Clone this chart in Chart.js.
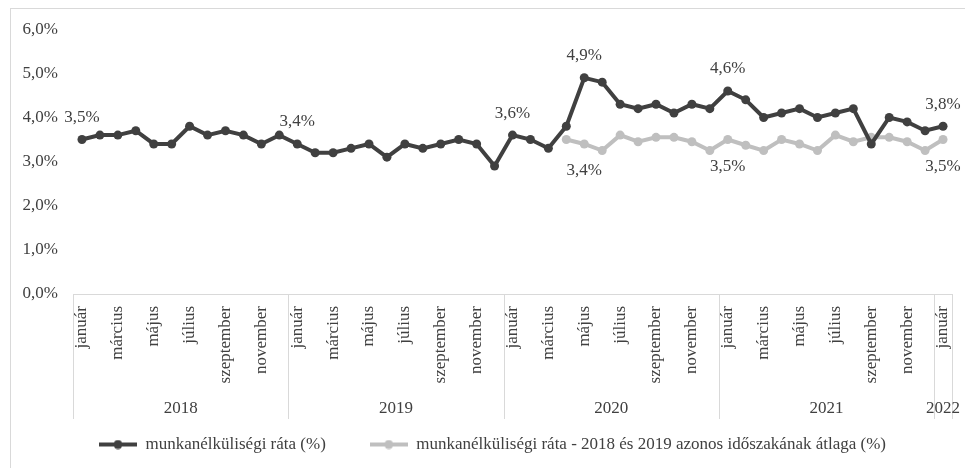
<!DOCTYPE html>
<html>
<head>
<meta charset="utf-8">
<script src="https://cdn.jsdelivr.net/npm/chart.js@4.4.1/dist/chart.umd.min.js"></script>
<style>
  html, body { margin: 0; padding: 0; background: #fff; overflow: hidden; }
  #box { position: absolute; left: 10px; top: 8px; width: 970px; height: 490px; border: 1px solid #d9d9d9; }
  canvas { display: block; margin-top: -5px; }
</style>
</head>
<body>
<div id="box"><canvas id="chart" width="970" height="459" style="width:970px;height:459px"></canvas></div>
<script>
// havi adatok 2018 január - 2022 január
const monthNames = ["január", "február", "március", "április", "május", "június",
  "július", "augusztus", "szeptember", "október", "november", "december"];
const years = ["2018", "2019", "2020", "2021", "2022"];
const yearMonths = [12, 12, 12, 12, 1];

const categories = [];
years.forEach((y, i) => {
  for (let m = 0; m < yearMonths[i]; m++) categories.push(monthNames[m]);
});

const rate = [
  3.5, 3.6, 3.6, 3.7, 3.4, 3.4, 3.8, 3.6, 3.7, 3.6, 3.4, 3.6,
  3.4, 3.2, 3.2, 3.3, 3.4, 3.1, 3.4, 3.3, 3.4, 3.5, 3.4, 2.9,
  3.6, 3.5, 3.3, 3.8, 4.9, 4.8, 4.3, 4.2, 4.3, 4.1, 4.3, 4.2,
  4.6, 4.4, 4.0, 4.1, 4.2, 4.0, 4.1, 4.2, 3.4, 4.0, 3.9, 3.7,
  3.8
];
const avg1819 = [
  null, null, null, null, null, null, null, null, null, null, null, null,
  null, null, null, null, null, null, null, null, null, null, null, null,
  null, null, null, 3.5, 3.4, 3.25, 3.6, 3.45, 3.55, 3.55, 3.45, 3.25,
  3.5, 3.37, 3.25, 3.5, 3.4, 3.25, 3.6, 3.45, 3.55, 3.55, 3.45, 3.25,
  3.5
];
const rateLabelIdx = [0, 12, 24, 28, 36, 48];
const avgLabelIdx = [28, 36, 48];

const yTicks = [0, 1, 2, 3, 4, 5, 6];

const FONT = "'Liberation Serif', 'Times New Roman', serif";
const FS = 17;
const TEXT = "#404040";
const DARK = "#404040";
const LIGHT = "#bfbfbf";
const AXIS = "#d9d9d9";

const fmt = v => v.toFixed(1).replace(".", ",") + "%";

// legend ikon: vonal + pont
function legendIcon(color) {
  const c = document.createElement("canvas");
  c.width = 38; c.height = 10;
  const g = c.getContext("2d");
  g.strokeStyle = color; g.lineWidth = 4;
  g.beginPath(); g.moveTo(0, 5); g.lineTo(38, 5); g.stroke();
  g.fillStyle = color;
  g.beginPath(); g.arc(19, 5, 4.5, 0, Math.PI * 2); g.fill();
  return c;
}
const icons = [legendIcon(DARK), legendIcon(LIGHT)];

const yearAxis = {
  id: "yearAxis",
  afterLayout(chart) {
    // a jelmagyarázat kicsit jobbra
    chart.legend.left += 5;
    chart.legend.right += 5;
  },
  afterDraw(chart) {
    const x = chart.scales.x;
    const ctx = chart.ctx;
    const half = (x.getPixelForValue(1) - x.getPixelForValue(0)) / 2;
    const top = chart.chartArea.bottom;
    const bottom = top + 125;
    ctx.save();
    ctx.strokeStyle = AXIS;
    ctx.lineWidth = 1;
    ctx.fillStyle = TEXT;
    ctx.font = FS + "px " + FONT;
    ctx.textAlign = "center";
    ctx.textBaseline = "middle";
    let start = 0;
    years.forEach((y, i) => {
      const left = x.getPixelForValue(start) - half;
      const right = x.getPixelForValue(start + yearMonths[i] - 1) + half;
      [left, right].forEach(px => {
        const p = Math.round(px) + 0.5;
        ctx.beginPath(); ctx.moveTo(p, top); ctx.lineTo(p, bottom); ctx.stroke();
      });
      ctx.fillText(y, (left + right) / 2, top + 115);
      start += yearMonths[i];
    });
    ctx.restore();
  }
};

const pointLabels = {
  id: "pointLabels",
  afterDatasetsDraw(chart) {
    const ctx = chart.ctx;
    ctx.save();
    ctx.fillStyle = TEXT;
    ctx.font = FS + "px " + FONT;
    ctx.textAlign = "center";
    ctx.textBaseline = "middle";
    const m0 = chart.getDatasetMeta(0).data;
    rateLabelIdx.forEach(i => ctx.fillText(fmt(rate[i]), m0[i].x, m0[i].y - 22));
    const m1 = chart.getDatasetMeta(1).data;
    avgLabelIdx.forEach(i => ctx.fillText(fmt(avg1819[i]), m1[i].x, m1[i].y + 27));
    ctx.restore();
  }
};

new Chart(document.getElementById("chart"), {
  type: "line",
  data: {
    labels: categories,
    datasets: [{
      label: "munkanélküliségi ráta (%)",
      data: rate,
      borderColor: DARK,
      backgroundColor: DARK,
      borderWidth: 4,
      pointRadius: 4.5,
      pointBorderWidth: 0,
      pointBackgroundColor: DARK,
      tension: 0
    }, {
      label: "munkanélküliségi ráta - 2018 és 2019 azonos időszakának átlaga (%)",
      data: avg1819,
      borderColor: LIGHT,
      backgroundColor: LIGHT,
      borderWidth: 4,
      pointRadius: 4.5,
      pointBorderWidth: 0,
      pointBackgroundColor: LIGHT,
      tension: 0
    }]
  },
  options: {
    responsive: false,
    animation: false,
    layout: { padding: { top: 14, right: 29, left: 12, bottom: 0 } },
    plugins: {
      legend: {
        position: "bottom",
        labels: {
          usePointStyle: true,
          pointStyleWidth: 38,
          padding: 44,
          color: TEXT,
          font: { family: FONT, size: FS },
          generateLabels: chart => Chart.defaults.plugins.legend.labels.generateLabels(chart)
            .map((l, i) => ({ ...l, pointStyle: icons[i] }))
        }
      },
      tooltip: { enabled: false }
    },
    scales: {
      x: {
        offset: true,
        grid: { display: false, drawTicks: false },
        border: { display: true, color: AXIS, width: 1 },
        ticks: {
          autoSkip: false,
          minRotation: 90,
          maxRotation: 90,
          padding: 12,
          color: TEXT,
          font: { family: FONT, size: FS },
          callback: (v, i) => i % 2 === 0 ? categories[i] : ""
        },
        afterFit: s => { s.height = 98; }
      },
      y: {
        min: 0,
        max: 6,
        grid: { display: false, drawTicks: false },
        border: { display: false },
        afterBuildTicks: s => { s.ticks = yTicks.map(v => ({ value: v })); },
        ticks: {
          padding: 15,
          color: TEXT,
          font: { family: FONT, size: FS },
          callback: v => fmt(v)
        },
        afterFit: s => { s.width = 50; }
      }
    }
  },
  plugins: [yearAxis, pointLabels]
});
</script>
</body>
</html>
